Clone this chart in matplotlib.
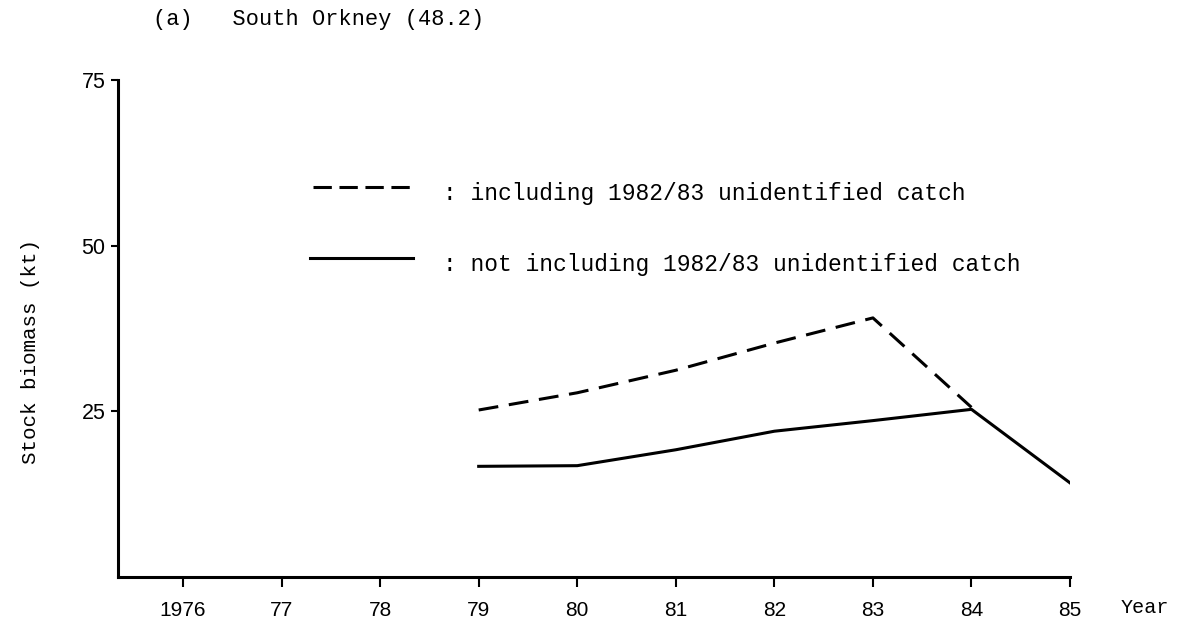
import matplotlib.pyplot as plt

# Stock biomass (kt), South Orkney (48.2)
years = [1976, 1977, 1978, 1979, 1980, 1981, 1982, 1983, 1984, 1985]
tick_labels = ["1976", "77", "78", "79", "80", "81", "82", "83", "84", "85"]

incl_years = [1979, 1980, 1981, 1982, 1983, 1984]
incl_biomass = [25.2, 27.8, 31.2, 35.3, 39.1, 25.6]

excl_years = [1979, 1980, 1981, 1982, 1983, 1984, 1985]
excl_biomass = [16.7, 16.8, 19.2, 22.0, 23.6, 25.3, 14.2]

mono = "Liberation Mono"

fig = plt.figure(figsize=(11.88, 6.25), dpi=100)
ax = fig.add_axes([0.0993, 0.0768, 0.8014, 0.7952])

ax.plot(incl_years, incl_biomass, color="black", lw=2.2, dashes=(6.5, 3.5))
ax.plot(excl_years, excl_biomass, color="black", lw=2.2)

ax.set_xlim(1975.34, 1985)
ax.set_ylim(0, 75)

for s in ["top", "right"]:
    ax.spines[s].set_visible(False)
for s in ["left", "bottom"]:
    ax.spines[s].set_linewidth(2.2)

ax.set_xticks(years)
ax.set_xticklabels(tick_labels, fontfamily="Liberation Sans", fontsize=15)
ax.set_yticks([25, 50, 75])
ax.set_yticklabels(["25", "50", "75"], fontfamily="Liberation Sans", fontsize=15.5)
ax.tick_params(axis="x", direction="out", length=7, width=1.5, pad=10)
ax.tick_params(axis="y", direction="out", length=5, width=1.5, pad=4)

ax.set_ylabel("Stock biomass (kt)", fontfamily=mono, fontsize=15)
ax.yaxis.set_label_coords(-0.082, 0.453)

ax.text(1.079, -0.062, "Year", transform=ax.transAxes, ha="center", va="center",
        fontfamily=mono, fontsize=14.5)

# hand-drawn style key
ax.plot([0.205, 0.312], [0.785, 0.785], transform=ax.transAxes, color="black",
        lw=2.2, dashes=(6, 2.5), clip_on=False)
ax.plot([0.2017, 0.31], [0.642, 0.642], transform=ax.transAxes, color="black",
        lw=2.2, clip_on=False)
ax.text(0.341, 0.771, ": including 1982/83 unidentified catch", transform=ax.transAxes,
        va="center", fontfamily=mono, fontsize=16.5)
ax.text(0.341, 0.628, ": not including 1982/83 unidentified catch", transform=ax.transAxes,
        va="center", fontfamily=mono, fontsize=16.5)

fig.text(153 / 1188, 1 - 20 / 625, "(a)   South Orkney (48.2)", ha="left", va="center",
         fontfamily=mono, fontsize=15.8)

plt.savefig("out.png", dpi=100)
